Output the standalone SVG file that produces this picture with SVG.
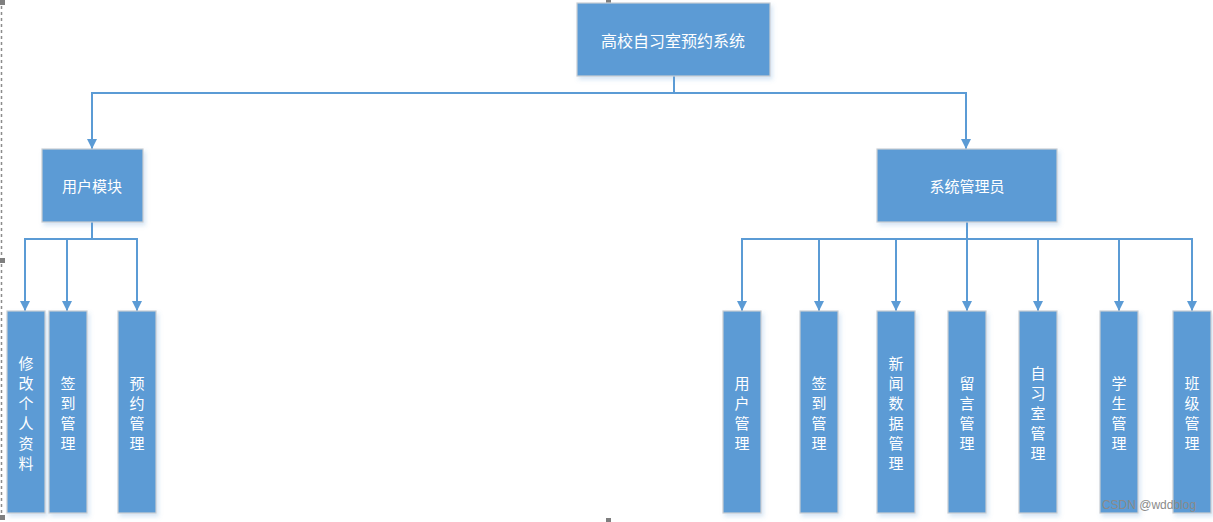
<svg xmlns="http://www.w3.org/2000/svg" width="1213" height="522" viewBox="0 0 1213 522">
<style>
.box{fill:#5B9BD5;stroke:#C9CDD2;stroke-width:1.2;filter:url(#sh)}
.t{fill:#FFFFFF;font-family:"Noto Sans CJK SC","Microsoft YaHei",sans-serif;font-size:15px;text-anchor:middle;dominant-baseline:central}
.c{fill:none;stroke:#5B9BD5;stroke-width:2}
.a{stroke:#5B9BD5;stroke-width:2;fill:none;marker-end:url(#arr)}
.h{fill:#7F7F7F}
</style>
<defs>
<filter id="sh" x="-20%" y="-20%" width="140%" height="140%">
<feDropShadow dx="2" dy="3" stdDeviation="2" flood-color="#5B9BD5" flood-opacity="0.25"/>
</filter>
<marker id="arr" viewBox="0 0 10 10" refX="10" refY="5" markerWidth="5.5" markerHeight="5" markerUnits="strokeWidth" orient="auto">
<path d="M0,0 L10,5 L0,10 z" fill="#5B9BD5"/>
</marker>
</defs>
<line x1="1.5" y1="0" x2="1.5" y2="522" stroke="#8C8C8C" stroke-width="1.5" stroke-dasharray="3,3"/>
<rect class="h" x="0" y="0" width="5" height="5"/>
<rect class="h" x="606" y="0" width="5" height="4"/>
<rect class="h" x="0" y="258" width="5" height="5"/>
<rect class="h" x="606" y="518" width="5" height="4"/>
<rect class="h" x="0" y="515" width="5" height="5"/>
<g id="connectors">
<polyline class="c" points="674,76 674,93"/>
<line class="c" x1="91" y1="93" x2="967" y2="93"/>
<line class="a" x1="92" y1="93" x2="92" y2="149"/>
<line class="a" x1="966" y1="93" x2="966" y2="149"/>
<line class="c" x1="92" y1="222" x2="92" y2="239"/>
<line class="c" x1="24" y1="239" x2="138" y2="239"/>
<line class="a" x1="25" y1="239" x2="25" y2="311"/>
<line class="a" x1="67" y1="239" x2="67" y2="311"/>
<line class="a" x1="137" y1="239" x2="137" y2="311"/>
<line class="c" x1="967" y1="222" x2="967" y2="239"/>
<line class="c" x1="741" y1="239" x2="1193" y2="239"/>
<line class="a" x1="742" y1="239" x2="742" y2="311"/>
<line class="a" x1="819" y1="239" x2="819" y2="311"/>
<line class="a" x1="896" y1="239" x2="896" y2="311"/>
<line class="a" x1="967" y1="239" x2="967" y2="311"/>
<line class="a" x1="1038" y1="239" x2="1038" y2="311"/>
<line class="a" x1="1119" y1="239" x2="1119" y2="311"/>
<line class="a" x1="1192" y1="239" x2="1192" y2="311"/>
</g>
<g id="root"><rect class="box" x="577" y="3" width="193" height="73"/><text class="t" x="673" y="40" style="font-size:16px">高校自习室预约系统</text></g>
<g id="user"><rect class="box" x="42" y="149" width="101" height="73"/><text class="t" x="92" y="185">用户模块</text></g>
<g id="admin"><rect class="box" x="877" y="149" width="180" height="73"/><text class="t" x="967" y="185">系统管理员</text></g>
<g id="l1"><rect class="box" x="7" y="311" width="38" height="202"/><text class="t"><tspan x="26" y="362">修</tspan><tspan x="26" dy="20">改</tspan><tspan x="26" dy="20">个</tspan><tspan x="26" dy="20">人</tspan><tspan x="26" dy="20">资</tspan><tspan x="26" dy="20">料</tspan></text></g>
<g id="l2"><rect class="box" x="49" y="311" width="38" height="202"/><text class="t"><tspan x="68" y="382">签</tspan><tspan x="68" dy="20">到</tspan><tspan x="68" dy="20">管</tspan><tspan x="68" dy="20">理</tspan></text></g>
<g id="l3"><rect class="box" x="118" y="311" width="38" height="202"/><text class="t"><tspan x="137" y="382">预</tspan><tspan x="137" dy="20">约</tspan><tspan x="137" dy="20">管</tspan><tspan x="137" dy="20">理</tspan></text></g>
<g id="r1"><rect class="box" x="723" y="311" width="38" height="202"/><text class="t"><tspan x="742" y="382">用</tspan><tspan x="742" dy="20">户</tspan><tspan x="742" dy="20">管</tspan><tspan x="742" dy="20">理</tspan></text></g>
<g id="r2"><rect class="box" x="800" y="311" width="38" height="202"/><text class="t"><tspan x="819" y="382">签</tspan><tspan x="819" dy="20">到</tspan><tspan x="819" dy="20">管</tspan><tspan x="819" dy="20">理</tspan></text></g>
<g id="r3"><rect class="box" x="877" y="311" width="38" height="202"/><text class="t"><tspan x="896" y="362">新</tspan><tspan x="896" dy="20">闻</tspan><tspan x="896" dy="20">数</tspan><tspan x="896" dy="20">据</tspan><tspan x="896" dy="20">管</tspan><tspan x="896" dy="20">理</tspan></text></g>
<g id="r4"><rect class="box" x="948" y="311" width="38" height="202"/><text class="t"><tspan x="967" y="382">留</tspan><tspan x="967" dy="20">言</tspan><tspan x="967" dy="20">管</tspan><tspan x="967" dy="20">理</tspan></text></g>
<g id="r5"><rect class="box" x="1019" y="311" width="38" height="202"/><text class="t"><tspan x="1038" y="372">自</tspan><tspan x="1038" dy="20">习</tspan><tspan x="1038" dy="20">室</tspan><tspan x="1038" dy="20">管</tspan><tspan x="1038" dy="20">理</tspan></text></g>
<g id="r6"><rect class="box" x="1100" y="311" width="38" height="202"/><text class="t"><tspan x="1119" y="382">学</tspan><tspan x="1119" dy="20">生</tspan><tspan x="1119" dy="20">管</tspan><tspan x="1119" dy="20">理</tspan></text></g>
<g id="r7"><rect class="box" x="1173" y="311" width="38" height="202"/><text class="t"><tspan x="1192" y="382">班</tspan><tspan x="1192" dy="20">级</tspan><tspan x="1192" dy="20">管</tspan><tspan x="1192" dy="20">理</tspan></text></g>
<text x="1149" y="505" style="font-family:'Liberation Sans',Arial,sans-serif;font-size:12px;fill:#8A8A8A;text-anchor:middle;dominant-baseline:central">CSDN @wddblog</text>
</svg>
